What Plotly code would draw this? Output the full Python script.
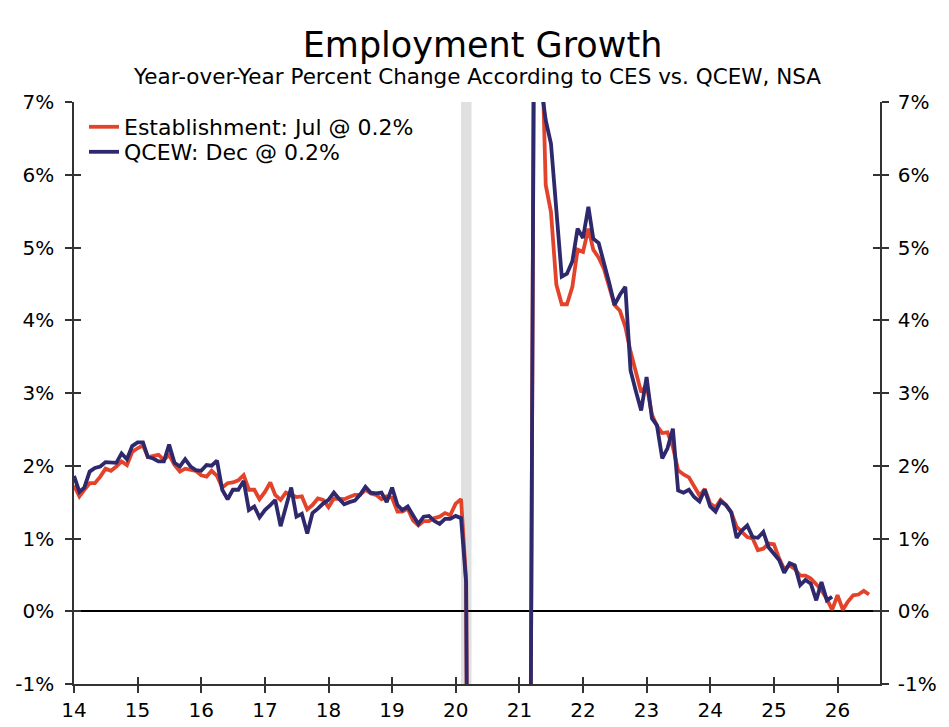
import pandas as pd
import plotly.graph_objects as go

# Year-over-year % change, monthly, starting Jan 2014
ces = [1.73, 1.58, 1.67, 1.76, 1.76, 1.85, 1.96, 1.93, 1.99, 2.06, 2.01, 2.19,
       2.24, 2.28, 2.12, 2.13, 2.15, 2.08, 2.15, 2.01, 1.92, 1.96, 1.94, 1.93,
       1.87, 1.85, 1.93, 1.86, 1.70, 1.76, 1.77, 1.80, 1.87, 1.67, 1.67, 1.54,
       1.64, 1.77, 1.60, 1.53, 1.63, 1.60, 1.57, 1.58, 1.40, 1.46, 1.55, 1.53,
       1.43, 1.55, 1.55, 1.54, 1.57, 1.60, 1.60, 1.67, 1.62, 1.60, 1.54, 1.58,
       1.56, 1.37, 1.37, 1.41, 1.25, 1.18, 1.24, 1.24, 1.28, 1.30, 1.35, 1.32,
       1.48, 1.54, 0.42, -13.0, -11.4, -8.9, -7.6, -6.7, -6.3, -5.9, -5.6, -5.9,
       -5.8, -5.6, -4.4, 11.3, 8.6, 5.86, 5.49, 4.49, 4.22, 4.22, 4.46, 4.97,
       4.94, 5.26, 4.97, 4.86, 4.71, 4.46, 4.21, 4.13, 3.91, 3.57, 3.29, 3.01,
       3.11, 2.70, 2.55, 2.45, 2.46, 2.26, 1.94, 1.88, 1.84, 1.71, 1.59, 1.68,
       1.48, 1.43, 1.53, 1.46, 1.36, 1.16, 1.09, 1.02, 1.00, 0.84, 0.86, 0.93,
       0.92, 0.72, 0.58, 0.63, 0.58, 0.49, 0.49, 0.45, 0.37, 0.29, 0.17, 0.02,
       0.22, 0.02, 0.13, 0.22, 0.23, 0.28, 0.23]

qcew = [1.86, 1.64, 1.70, 1.92, 1.97, 1.99, 2.05, 2.05, 2.04, 2.17, 2.09, 2.27,
        2.32, 2.32, 2.12, 2.10, 2.06, 2.06, 2.29, 2.04, 1.99, 2.09, 1.99, 1.94,
        1.93, 2.01, 2.00, 2.07, 1.67, 1.54, 1.67, 1.67, 1.79, 1.39, 1.44, 1.29,
        1.39, 1.46, 1.53, 1.17, 1.44, 1.70, 1.30, 1.34, 1.07, 1.35, 1.41, 1.48,
        1.53, 1.63, 1.55, 1.47, 1.50, 1.52, 1.60, 1.71, 1.63, 1.62, 1.63, 1.50,
        1.70, 1.46, 1.39, 1.44, 1.32, 1.20, 1.30, 1.31, 1.24, 1.20, 1.27, 1.27,
        1.31, 1.28, 0.40, -13.2, -11.6, -9.1, -7.8, -6.8, -6.4, -6.0, -5.7, -6.0,
        -5.9, -5.7, -4.6, 11.6, 7.3, 6.75, 6.43, 5.50, 4.60, 4.64, 4.81, 5.26,
        5.13, 5.56, 5.12, 5.06, 4.81, 4.51, 4.21, 4.35, 4.46, 3.31, 3.02, 2.76,
        3.22, 2.65, 2.56, 2.10, 2.24, 2.51, 1.66, 1.63, 1.67, 1.57, 1.51, 1.67,
        1.44, 1.37, 1.51, 1.46, 1.36, 1.01, 1.11, 1.18, 1.02, 1.01, 1.09, 0.88,
        0.79, 0.70, 0.53, 0.66, 0.63, 0.36, 0.43, 0.38, 0.15, 0.40, 0.15, 0.20]

recession = ["2020-02-01", "2020-04-01"]
years = list(range(2014, 2027))
year_labels = [str(y)[2:] for y in years]
y_ticks = list(range(-1, 8))
y_labels = [f"{v}%" for v in y_ticks]

ces_dates = pd.date_range("2014-01-01", periods=len(ces), freq="MS")
qcew_dates = pd.date_range("2014-01-01", periods=len(qcew), freq="MS")

RED = "#E2432A"
NAVY = "#2E286C"
FONT = "DejaVu Sans"
AXIS = "#333333"
x_range = ["2014-01-01", "2026-09-02"]
tickvals = [f"{y}-01-01" for y in years]

fig = go.Figure()
fig.add_trace(go.Scatter(x=ces_dates, y=ces, mode="lines", name="Establishment: Jul @ 0.2%",
                         line=dict(color=RED, width=3.8), legend="legend"))
fig.add_trace(go.Scatter(x=qcew_dates, y=qcew, mode="lines", name="QCEW: Dec @ 0.2%",
                         line=dict(color=NAVY, width=3.8), legend="legend2"))
# helper traces so the overlay axes get drawn
fig.add_trace(go.Scatter(x=[x_range[0]], y=[-5], xaxis="x2", yaxis="y2", showlegend=False,
                         mode="markers", marker=dict(opacity=0), hoverinfo="skip"))
fig.add_trace(go.Scatter(x=[x_range[0]], y=[-5], yaxis="y3", showlegend=False,
                         mode="markers", marker=dict(opacity=0), hoverinfo="skip"))
fig.add_trace(go.Scatter(x=[x_range[0]], y=[-5], yaxis="y4", showlegend=False,
                         mode="markers", marker=dict(opacity=0), hoverinfo="skip"))

fig.add_vrect(x0=recession[0], x1=recession[1], fillcolor="#E0E0E0", opacity=1,
              line_width=0, layer="below")

yaxis_common = dict(range=[-1, 7], tickvals=y_ticks, ticktext=y_labels, ticklen=7,
                    tickwidth=1.5, tickcolor=AXIS, showgrid=False, zeroline=False,
                    fixedrange=True, automargin=False)

legend_common = dict(xanchor="left", yanchor="middle", bgcolor="rgba(0,0,0,0)",
                     font=dict(size=22, family=FONT), itemwidth=30)

fig.update_layout(
    width=949, height=727,
    margin=dict(l=66, r=77, t=94, b=51),
    paper_bgcolor="white", plot_bgcolor="white",
    font=dict(family=FONT, color="black"),
    title=dict(text="Employment Growth", x=0.5, xanchor="center",
               y=1 - 37 / 727, yanchor="middle", font=dict(size=35, family=FONT)),
    annotations=[dict(text="Year-over-Year Percent Change According to CES vs. QCEW, NSA",
                      xref="paper", yref="paper", x=0.5, y=(684 - 77) / 582,
                      xanchor="center", yanchor="middle", showarrow=False,
                      font=dict(size=21.5, family=FONT))],
    xaxis=dict(range=x_range, tickvals=tickvals, ticktext=year_labels,
               ticks="outside", ticklen=7, tickwidth=1.5, tickcolor=AXIS,
               showline=True, linecolor=AXIS, linewidth=1.5, showgrid=False,
               tickfont=dict(size=20), fixedrange=True, automargin=False),
    xaxis2=dict(range=x_range, tickvals=tickvals, overlaying="x", anchor="y",
                side="bottom", ticks="inside", ticklen=7, tickwidth=1.5,
                tickcolor=AXIS, showticklabels=False, showline=False,
                showgrid=False, fixedrange=True, automargin=False),
    yaxis=dict(yaxis_common, ticks="outside", showline=True,
               linecolor=AXIS, linewidth=1.5, tickfont=dict(size=20),
               ticklabelstandoff=7,
               zeroline=True, zerolinecolor="black", zerolinewidth=1.5),
    yaxis2=dict(yaxis_common, overlaying="y", side="right", anchor="x", ticks="outside",
                showline=True, linecolor=AXIS, linewidth=1.5,
                tickfont=dict(size=20), ticklabelstandoff=5),
    yaxis3=dict(yaxis_common, overlaying="y", side="left", ticks="inside",
                showticklabels=False),
    yaxis4=dict(yaxis_common, overlaying="y", side="right", anchor="x",
                ticks="inside", showticklabels=False),
    legend=dict(legend_common, x=0.0124, y=(684 - 127) / 582),
    legend2=dict(legend_common, x=0.0124, y=(684 - 152) / 582),
    showlegend=True,
)

fig.write_html("out.html")
